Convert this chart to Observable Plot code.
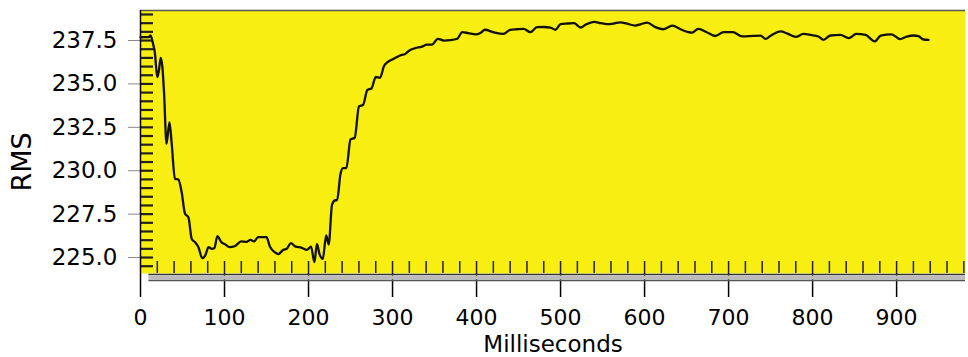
<!DOCTYPE html>
<html>
<head>
<meta charset="utf-8">
<script src="https://cdn.jsdelivr.net/npm/d3@7"></script>
<script src="https://cdn.jsdelivr.net/npm/@observablehq/plot@0.6"></script>
<style>
  html, body { margin: 0; padding: 0; background: white; }
  #chart svg { display: block; }
</style>
</head>
<body>
<div id="chart"></div>
<script>
// Time in milliseconds
const ms = [0, 5, 10, 12, 15, 17, 20, 22, 24, 26, 28, 31, 34.5, 37, 41, 45, 49, 53, 57, 61, 65, 69, 73.5, 77, 81, 85, 88, 91.5, 96, 101, 106, 112, 120, 126, 131, 135, 140, 150, 154, 160, 164, 170, 174, 179, 184, 192, 198, 203, 207, 210, 213, 217, 221, 224, 228, 232, 234, 238, 241, 245, 250, 255, 260, 265, 270, 275, 280, 285, 290, 294, 301, 309, 315, 321, 327, 335, 341, 347, 354, 361, 369, 377, 383, 390, 399, 405, 410, 420, 432, 440, 448, 456, 464, 472, 480, 488, 494, 500, 508, 516, 524, 530, 540, 548, 555, 563, 571, 579, 589, 596, 603, 613, 622, 633, 643, 652, 656, 664, 674, 684, 694, 705, 716, 730, 738, 744, 750, 762, 770, 780, 789, 798, 807, 813, 821, 833, 843, 852, 863, 874, 881, 894, 904, 912, 920, 926, 932, 938];
// RMS voltage
const rms = [237.69, 237.70, 237.70, 237.79, 237.3, 236.83, 235.39, 235.8, 236.5, 236.0, 234.52, 231.55, 232.8, 231.64, 229.53, 229.5, 228.76, 227.52, 227.32, 226.07, 225.88, 225.59, 224.96, 225.11, 225.6, 225.5, 225.55, 226.23, 225.9, 225.75, 225.6, 225.65, 225.93, 225.9, 226.02, 225.93, 226.17, 226.17, 225.63, 225.3, 225.2, 225.44, 225.5, 225.83, 225.64, 225.56, 225.44, 225.63, 224.73, 225.79, 225.21, 224.92, 226.27, 225.75, 228.05, 228.3, 228.3, 229.8, 230.15, 230.15, 231.8, 231.9, 233.7, 233.8, 234.65, 234.75, 235.4, 235.35, 236.05, 236.25, 236.44, 236.64, 236.73, 236.96, 237.06, 237.15, 237.27, 237.27, 237.6, 237.5, 237.52, 237.6, 237.98, 237.93, 237.85, 237.95, 238.12, 237.98, 237.88, 238.12, 238.15, 238.17, 237.98, 238.27, 238.28, 238.25, 238.12, 238.44, 238.48, 238.5, 238.25, 238.42, 238.58, 238.5, 238.45, 238.48, 238.55, 238.47, 238.36, 238.45, 238.53, 238.27, 238.15, 238.36, 238.15, 237.98, 237.95, 238.17, 237.98, 237.76, 237.98, 237.98, 237.74, 237.77, 237.78, 237.6, 237.78, 238.03, 237.9, 237.71, 237.88, 237.82, 237.73, 237.54, 237.79, 237.83, 237.64, 237.88, 237.82, 237.45, 237.78, 237.86, 237.58, 237.72, 237.79, 237.75, 237.56, 237.54];

// Tick values
const yTicks = [225.0, 227.5, 230.0, 232.5, 235.0, 237.5];
const xTicks = [0, 100, 200, 300, 400, 500, 600, 700, 800, 900];
const yMinor = d3.range(224.5, 239.01, 0.5);
const xMinor = d3.range(20, 981, 20);

const xLabel = "Milliseconds";
const yLabel = "RMS";

const yDomain = [224.08, 239.23];
const xDomain = [0, 982];

const data = ms.map((m, i) => ({ms: m, rms: rms[i]}));

const chart = Plot.plot({
  width: 968,
  height: 357,
  marginLeft: 140,
  marginRight: 3,
  marginTop: 10,
  marginBottom: 84,
  x: {domain: xDomain},
  y: {domain: yDomain},
  style: {fontFamily: "DejaVu Sans, sans-serif", fontSize: "23px", background: "white", color: "black"},
  marks: [
    Plot.frame({fill: "#f8ee12", stroke: null}),
    Plot.ruleY([yDomain[1]], {stroke: "#555", strokeWidth: 1.5}),
    Plot.axisY(yMinor, {tickSize: -13, strokeWidth: 2.2, stroke: "#222", tickFormat: () => "", label: null}),
    Plot.axisX(xMinor, {tickSize: -12, strokeWidth: 1.5, stroke: "#222", tickFormat: () => "", label: null}),
    Plot.axisY(yTicks, {tickSize: 12, tickPadding: 11, stroke: "#888", fill: "black", tickFormat: d3.format(".1f"), label: null}),
    Plot.axisX(xTicks, {tickSize: 24, tickPadding: 12, strokeWidth: 1.5, fontSize: 22, tickFormat: d3.format("d"), label: null}),
    Plot.ruleX([0], {stroke: "black", strokeWidth: 1.5}),
    Plot.ruleY([yDomain[0]], {x1: 10, x2: xDomain[1], stroke: "#333", strokeWidth: 1.5, dy: 1}),
    Plot.ruleY([yDomain[0]], {x1: 10, x2: xDomain[1], stroke: "#bbb", strokeWidth: 4, dy: 4}),
    Plot.ruleY([yDomain[0]], {x1: 10, x2: xDomain[1], stroke: "#555", strokeWidth: 1.5, dy: 7}),
    Plot.lineY(data, {x: "ms", y: "rms", stroke: "#111", strokeWidth: 2.3, curve: "monotone-x"}),
    Plot.text([xLabel], {text: d => d, frameAnchor: "bottom", lineAnchor: "middle", dy: 71, fontSize: 23, fill: "black"}),
    Plot.text([yLabel], {text: d => d, frameAnchor: "left", textAnchor: "middle", dx: -118, dy: 20, rotate: -90, fontSize: 27, fill: "black"})
  ]
});

document.getElementById("chart").append(chart);
</script>
</body>
</html>
